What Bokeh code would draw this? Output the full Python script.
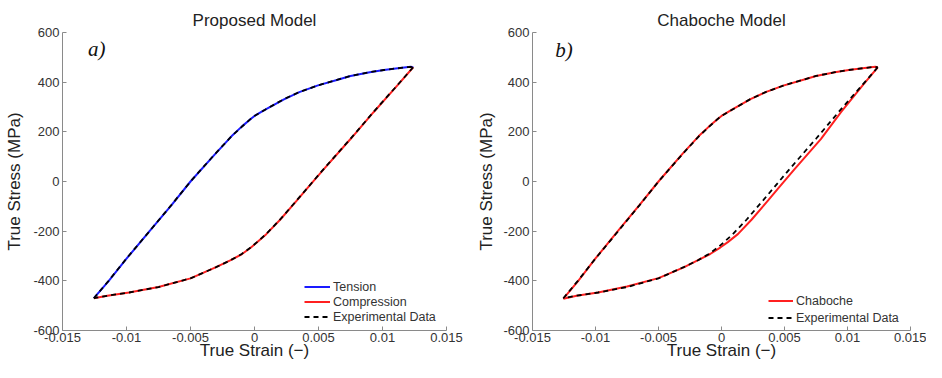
from bokeh.plotting import figure
from bokeh.models import Range1d, FixedTicker, Label, Legend, LegendItem
from bokeh.layouts import row
from bokeh.embed import file_html
from bokeh.resources import INLINE

# ---------------- data ----------------
x_ticks = [-0.015, -0.01, -0.005, 0, 0.005, 0.01, 0.015]
x_tick_labels = ["-0.015", "-0.01", "-0.005", "0", "0.005", "0.01", "0.015"]
y_ticks = [-600, -400, -200, 0, 200, 400, 600]
y_tick_labels = ["-600", "-400", "-200", "0", "200", "400", "600"]

# Experimental data: tension (loading) branch
exp_ten_strain = [-0.01255, -0.0114, -0.0100, -0.0082, -0.0065, -0.0050, -0.0031, -0.0018,
                  -0.0010, -0.0003, 0.0000, 0.0008, 0.0023, 0.0035, 0.0049, 0.0065, 0.0075,
                  0.0090, 0.0101, 0.0112, 0.0122, 0.0124]
exp_ten_stress = [-470, -400, -310, -200, -95, 0, 110, 182,
                  220, 252, 264, 288, 332, 360, 386, 410, 425,
                  440, 449, 456, 462, 460]
# Experimental data: compression (unloading) branch
exp_com_strain = [0.0124, 0.0112, 0.0093, 0.0075, 0.0054, 0.0042, 0.0033, 0.0020, 0.0009,
                  0.0002, -0.0003, -0.0010, -0.0019, -0.0030, -0.0050, -0.0075, -0.0098,
                  -0.0115, -0.01255]
exp_com_stress = [460, 390, 280, 172, 50, -22, -76, -153, -212,
                  -244, -266, -292, -318, -345, -390, -425, -447,
                  -460, -470]

# Proposed model
prop_ten_strain = [-0.01255, -0.0114, -0.0100, -0.0082, -0.0065, -0.0050, -0.0031, -0.0018,
                   -0.0010, -0.0003, 0.0000, 0.0008, 0.0023, 0.0035, 0.0049, 0.0065, 0.0075,
                   0.0090, 0.0101, 0.0112, 0.0122, 0.0124]
prop_ten_stress = [-470, -401, -311, -200, -96, 0, 109, 182,
                   221, 252, 264, 288, 331, 360, 386, 410, 425,
                   440, 449, 456, 462, 460]
prop_com_strain = [0.0124, 0.0112, 0.0093, 0.0075, 0.0054, 0.0042, 0.0033, 0.0020, 0.0009,
                   0.0002, -0.0003, -0.0010, -0.0019, -0.0030, -0.0050, -0.0075, -0.0098,
                   -0.0115, -0.01255]
prop_com_stress = [460, 389, 279, 171, 49, -23, -77, -154, -213,
                   -245, -267, -293, -318, -345, -390, -425, -447,
                   -460, -470]

# Chaboche model (full loop)
chab_ten_strain = [-0.01255, -0.0114, -0.0100, -0.0082, -0.0065, -0.0050, -0.0031, -0.0018,
                   -0.0010, -0.0003, 0.0000, 0.0008, 0.0023, 0.0035, 0.0049, 0.0065, 0.0075,
                   0.0090, 0.0101, 0.0112, 0.0122, 0.0124]
chab_ten_stress = [-472, -402, -310, -198, -94, 0, 111, 183,
                   221, 252, 264, 288, 332, 360, 386, 410, 425,
                   440, 449, 456, 462, 460]
chab_com_strain = [0.0124, 0.01125, 0.0095, 0.0079, 0.0058, 0.0046, 0.0037, 0.0024, 0.0013,
                   0.0005, -0.0001, -0.0009, -0.0019, -0.0030, -0.0050, -0.0075, -0.0098,
                   -0.0115, -0.01255]
chab_com_stress = [460, 390, 280, 172, 50, -22, -76, -153, -212,
                   -244, -266, -292, -318, -346, -389, -423, -447,
                   -460, -472]

FONT = "Liberation Sans"
FIG_H = 362


def make_fig(width, min_left, min_right, min_top, title, title_standoff, ylabel_standoff):
    p = figure(width=width, height=FIG_H,
               x_range=Range1d(-0.015, 0.015), y_range=Range1d(-600, 600),
               output_backend="svg", toolbar_location=None,
               min_border_left=min_left, min_border_right=min_right,
               min_border_top=min_top, min_border_bottom=32)
    p.title.text = title
    p.title.align = "center"
    p.title.text_font = FONT
    p.title.text_font_size = "17px"
    p.title.text_font_style = "normal"
    p.title.text_color = "#222222"
    p.title.standoff = title_standoff
    p.outline_line_color = None
    p.xgrid.visible = False
    p.ygrid.visible = False
    p.background_fill_color = "white"
    p.border_fill_color = "white"

    p.xaxis.ticker = FixedTicker(ticks=x_ticks)
    p.xaxis.major_label_overrides = dict(zip(x_ticks, x_tick_labels))
    p.yaxis.ticker = FixedTicker(ticks=y_ticks)
    p.yaxis.major_label_overrides = dict(zip(y_ticks, y_tick_labels))
    p.xaxis.axis_label = "True Strain (\u2212)"
    p.yaxis.axis_label = "True Stress (MPa)"
    for ax in (p.xaxis, p.yaxis):
        ax.axis_line_color = "#8a8a8a"
        ax.major_tick_line_color = "#8a8a8a"
        ax.major_tick_in = 4
        ax.major_tick_out = 0
        ax.minor_tick_line_color = None
        ax.major_label_text_font = FONT
        ax.major_label_text_font_size = "13px"
        ax.major_label_text_color = "#333333"
        ax.axis_label_text_font = FONT
        ax.axis_label_text_font_size = "17px"
        ax.axis_label_text_font_style = "normal"
        ax.axis_label_text_color = "#222222"
    p.xaxis.major_label_standoff = 2
    p.xaxis.axis_label_standoff = -4
    p.yaxis.major_label_standoff = 3
    p.yaxis.axis_label_standoff = ylabel_standoff
    return p


def style_legend(leg, gw, gh):
    leg.padding = 0
    leg.spacing = 0
    leg.margin = 0
    leg.label_standoff = 3
    leg.glyph_width = gw
    leg.glyph_height = gh
    leg.label_height = gh
    leg.label_text_font = FONT
    leg.label_text_font_size = "12.5px"
    leg.label_text_color = "#333333"
    leg.background_fill_alpha = 0
    leg.border_line_alpha = 0


# ---------------- panel a ----------------
pa = make_fig(464, 62, 18, 32, "Proposed Model", 5, 6)
r_t = pa.line(prop_ten_strain, prop_ten_stress, line_color="#1a1aff", line_width=2)
r_c = pa.line(prop_com_strain, prop_com_stress, line_color="#ff2020", line_width=2)
r_e1 = pa.line(exp_ten_strain, exp_ten_stress, line_color="black", line_width=1.8, line_dash="5 4")
pa.line(exp_com_strain, exp_com_stress, line_color="black", line_width=1.8, line_dash="5 4")
leg_a = Legend(items=[LegendItem(label="Tension", renderers=[r_t]),
                      LegendItem(label="Compression", renderers=[r_c]),
                      LegendItem(label="Experimental Data", renderers=[r_e1])],
               location=(242, 6))
style_legend(leg_a, 26, 15)
pa.add_layout(leg_a)
pa.add_layout(Label(x=-0.0130, y=533, text="a)", text_font="Liberation Serif",
                    text_font_style="italic", text_font_size="21px", text_color="#111111",
                    text_baseline="alphabetic", text_align="left"))

# ---------------- panel b ----------------
pb = make_fig(462, 68, 16, 30, "Chaboche Model", 6, 4)
r_ch = pb.line(chab_ten_strain, chab_ten_stress, line_color="#ff2020", line_width=2)
pb.line(chab_com_strain, chab_com_stress, line_color="#ff2020", line_width=2)
r_e2 = pb.line(exp_ten_strain, exp_ten_stress, line_color="black", line_width=1.8, line_dash="5 4")
pb.line(exp_com_strain, exp_com_stress, line_color="black", line_width=1.8, line_dash="5 4")
leg_b = Legend(items=[LegendItem(label="Chaboche", renderers=[r_ch]),
                      LegendItem(label="Experimental Data", renderers=[r_e2])],
               location=(236, 4))
style_legend(leg_b, 25, 17)
pb.add_layout(leg_b)
pb.add_layout(Label(x=-0.0132, y=530, text="b)", text_font="Liberation Serif",
                    text_font_style="italic", text_font_size="21px", text_color="#111111",
                    text_baseline="alphabetic", text_align="left"))

layout = row(pa, pb)
open("out.html", "w").write(file_html(layout, INLINE))
